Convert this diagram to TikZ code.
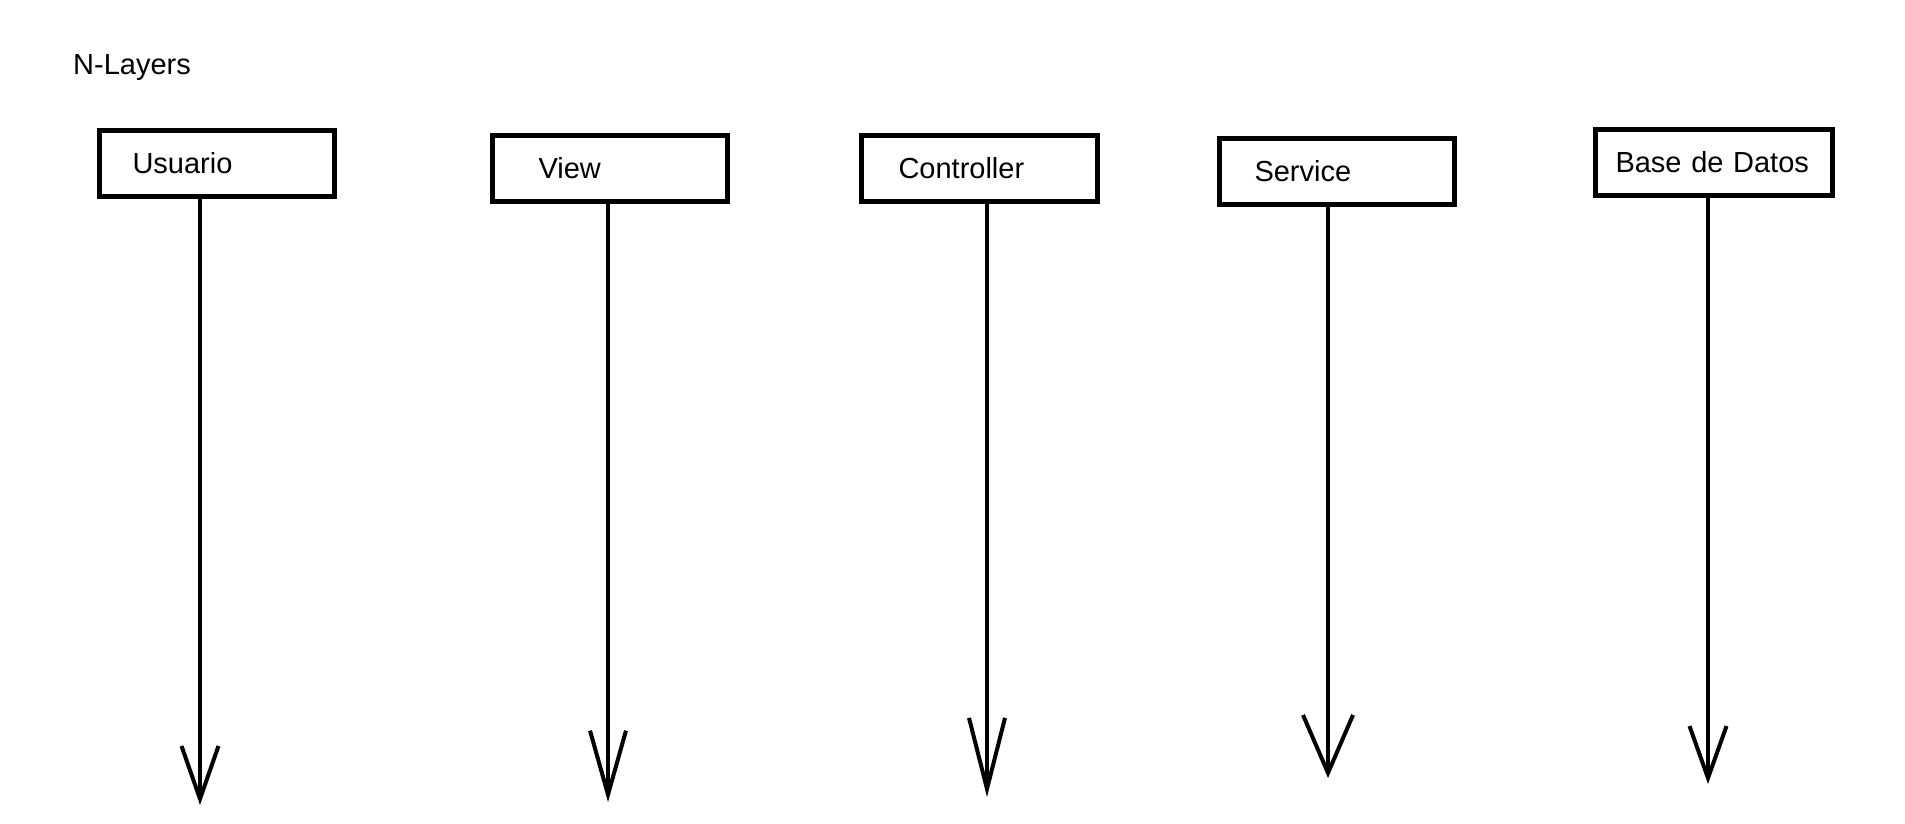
\documentclass[tikz,border=0pt]{standalone}
\usepackage{fontspec}
\setmainfont{Liberation Sans}
\usetikzlibrary{arrows.meta}

\tikzset{%
    layer/.style 2 args={%
        draw, line width=5pt, minimum height=66pt,
        inner xsep=#1, text width=#2, align=left,
        font=\fontsize{29}{35}\selectfont
    },
    lifeline/.style={%
        line width=4pt, line cap=round
    }
}

\begin{document}
\begin{tikzpicture}[x=1pt, y=-1pt]

    \useasboundingbox (0, 0) rectangle (1905, 823);

    % Title
    \node[anchor=base west, inner sep=0pt, font=\fontsize{29}{35}\selectfont]
        (title) at (73, 74.5) {N-Layers};

    % Layers
    \node[layer={33pt}{169pt}] (usuario) at (217, 163.5) {Usuario};
    \node[layer={46pt}{143pt}] (view) at (610, 168) {View};
    \node[layer={37pt}{162pt}] (controller) at (979.5, 168.5) {Controller};
    \node[layer={35pt}{165pt}] (service) at (1337, 171.5) {Service};
    \node[layer={20pt}{197pt}] (datos) at (1714, 162.5) {Base de Datos};

    % Where the lines end
    \coordinate (usuarioEnd) at (200, 805);
    \coordinate (viewEnd) at (608, 802);
    \coordinate (controllerEnd) at (987, 797);
    \coordinate (serviceEnd) at (1328, 778);
    \coordinate (datosEnd) at (1708, 784);

    % Lifelines
    \draw[lifeline, -{Straight Barb[length=53pt, width=37pt]}]
        (usuarioEnd |- usuario.south) -- (usuarioEnd);
    \draw[lifeline, -{Straight Barb[length=64pt, width=36pt]}]
        (viewEnd |- view.south) -- (viewEnd);
    \draw[lifeline, -{Straight Barb[length=71pt, width=36pt]}]
        (controllerEnd |- controller.south) -- (controllerEnd);
    \draw[lifeline, -{Straight Barb[length=58pt, width=50pt]}]
        (serviceEnd |- service.south) -- (serviceEnd);
    \draw[lifeline, -{Straight Barb[length=52pt, width=37pt]}]
        (datosEnd |- datos.south) -- (datosEnd);

\end{tikzpicture}
\end{document}
